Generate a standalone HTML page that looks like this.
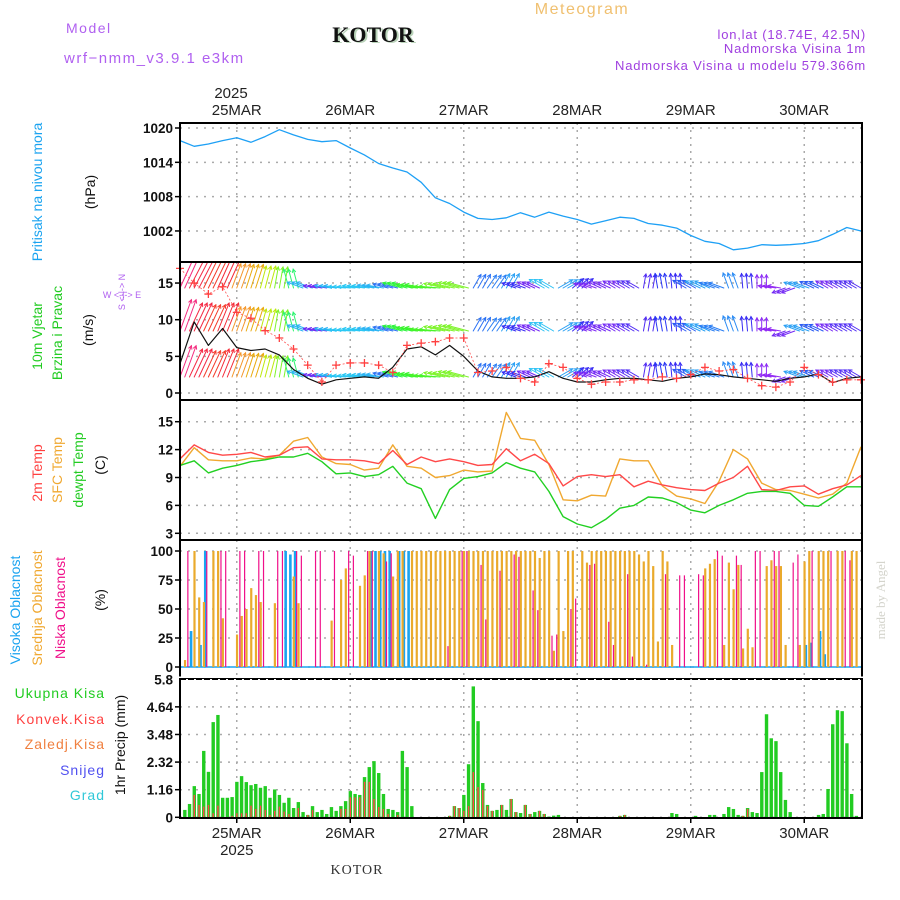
<!DOCTYPE html>
<html><head><meta charset="utf-8"><style>
html,body{margin:0;padding:0;background:#fff;}
#wrap{position:relative;width:900px;height:900px;overflow:hidden;font-family:"Liberation Sans",sans-serif;}
svg{position:absolute;left:0;top:0;}
</style></head><body>
<div id="wrap">
<svg id="chart" width="900" height="900" viewBox="0 0 900 900" xmlns="http://www.w3.org/2000/svg">
<g font-family="Liberation Sans, sans-serif">
<text x="66" y="33" font-size="14" fill="#b060f0" letter-spacing="1.5">Model</text>
<text x="64" y="63" font-size="15" fill="#b060f0" letter-spacing="1.5">wrf−nmm_v3.9.1 e3km</text>
<text x="375" y="43" font-size="22" font-weight="bold" font-family="Liberation Serif, serif" fill="#b9d3b9" text-anchor="middle">KOTOR</text>
<text x="373" y="42" font-size="22" font-weight="bold" font-family="Liberation Serif, serif" fill="#111" text-anchor="middle">KOTOR</text>
<text x="582" y="14" font-size="16" fill="#f0c070" text-anchor="middle" letter-spacing="1.5">Meteogram</text>
<text x="866" y="39" font-size="13" fill="#a040e0" text-anchor="end" letter-spacing="0.8">lon,lat (18.74E, 42.5N)</text>
<text x="866" y="53" font-size="13" fill="#a040e0" text-anchor="end" letter-spacing="0.8">Nadmorska Visina 1m</text>
<text x="866" y="70" font-size="13" fill="#a040e0" text-anchor="end" letter-spacing="0.8">Nadmorska Visina u modelu 579.366m</text>
<text x="231" y="98" font-size="15" fill="#222" text-anchor="middle">2025</text>
<text x="357" y="874" font-size="14" font-family="Liberation Serif, serif" fill="#333" text-anchor="middle" letter-spacing="1">KOTOR</text>
<text transform="translate(885,600) rotate(-90)" font-size="13" font-family="Liberation Serif, serif" fill="#d4d4cc" text-anchor="middle">made by Angel</text>

<text transform="translate(42,192) rotate(-90)" font-size="14" fill="#1aa3f0" text-anchor="middle">Pritisak na nivou mora</text>
<text transform="translate(95,192) rotate(-90)" font-size="14" fill="#111" text-anchor="middle">(hPa)</text>
<text transform="translate(42,336) rotate(-90)" font-size="14" fill="#22cc22" text-anchor="middle">10m Vjetar</text>
<text transform="translate(62,333) rotate(-90)" font-size="14" fill="#22cc22" text-anchor="middle">Brzina i Pravac</text>
<text transform="translate(93,330) rotate(-90)" font-size="14" fill="#111" text-anchor="middle">(m/s)</text>
<text transform="translate(125,292) rotate(-90)" font-size="9" fill="#b060f0" text-anchor="middle">S &lt;-|-&gt; N</text>
<text x="122" y="298" font-size="9" fill="#b060f0" text-anchor="middle">W &lt;-|-&gt; E</text>
<text transform="translate(42,473) rotate(-90)" font-size="14" fill="#ff4040" text-anchor="middle">2m Temp</text>
<text transform="translate(62,470) rotate(-90)" font-size="14" fill="#f0a830" text-anchor="middle">SFC Temp</text>
<text transform="translate(83,470) rotate(-90)" font-size="14" fill="#22cc22" text-anchor="middle">dewpt Temp</text>
<text transform="translate(105,465) rotate(-90)" font-size="14" fill="#111" text-anchor="middle">(C)</text>
<text transform="translate(20,610) rotate(-90)" font-size="14" fill="#1aa3f0" text-anchor="middle">Visoka Oblacnost</text>
<text transform="translate(42,608) rotate(-90)" font-size="14" fill="#f0a830" text-anchor="middle">Srednja Oblacnost</text>
<text transform="translate(65,608) rotate(-90)" font-size="14" fill="#f0108a" text-anchor="middle">Niska Oblacnost</text>
<text transform="translate(105,600) rotate(-90)" font-size="14" fill="#111" text-anchor="middle">(%)</text>
<text x="105" y="698" font-size="14" fill="#22cc22" text-anchor="end" letter-spacing="1">Ukupna  Kisa</text>
<text x="105" y="724" font-size="14" fill="#ff4040" text-anchor="end" letter-spacing="1">Konvek.Kisa</text>
<text x="105" y="749" font-size="14" fill="#f08040" text-anchor="end" letter-spacing="1">Zaledj.Kisa</text>
<text x="105" y="775" font-size="14" fill="#5050f0" text-anchor="end" letter-spacing="1">Snijeg</text>
<text x="105" y="800" font-size="14" fill="#30c8d8" text-anchor="end" letter-spacing="1">Grad</text>
<text transform="translate(125,745) rotate(-90)" font-size="14" fill="#111" text-anchor="middle">1hr Precip (mm)</text>
</g>
<g id="plots"></g>
</svg>
</div>
<script>
// ---- data (3-hourly from 24 Mar 12:00) ----
const dayLabels = ["25MAR","26MAR","27MAR","28MAR","29MAR","30MAR"];
const pressure = [1017.8,1016.8,1017.2,1017.8,1018.3,1017.5,1018.5,1019.7,1018.8,1018.0,1017.6,1017.8,1016.5,1015.3,1013.8,1013.0,1012.3,1010.5,1007.8,1006.8,1005.3,1004.2,1004.0,1004.3,1005.2,1004.4,1005.3,1004.6,1004.0,1003.2,1003.8,1004.4,1004.2,1003.3,1003.0,1002.5,1001.2,1000.2,999.8,998.7,999.0,999.6,999.5,999.6,999.8,1000.3,1001.4,1002.6,1002.0];
const pressureTicks = [1020,1014,1008,1002];
const windSpeed = [4.0,9.7,6.5,8.8,6.2,5.8,6.0,5.2,3.2,2.0,1.2,1.8,2.0,2.2,2.0,3.5,6.0,6.3,5.2,6.5,5.0,3.0,2.2,2.0,2.0,2.2,2.9,2.0,1.5,1.5,1.8,2.0,2.0,1.8,1.6,2.0,2.2,2.6,2.5,2.2,2.0,1.8,1.6,2.0,2.2,2.6,1.4,2.0,2.2];
const windGust = [17,15,13.5,14.5,11.0,10.2,8.5,7.5,6.0,3.8,1.5,3.8,4.1,4.1,3.8,2.8,6.5,6.8,7.0,7.5,7.5,2.8,3.0,3.5,2.0,1.5,4.0,3.5,2.0,1.2,1.5,1.5,1.8,1.8,2.2,2.0,2.5,3.5,3.0,3.2,2.0,1.0,0.8,1.5,3.5,2.5,1.5,1.8,1.8];
const windDir = [70,65,65,68,70,72,75,80,105,160,170,172,175,172,170,165,165,170,175,168,165,60,55,60,160,155,150,30,40,160,155,150,150,80,100,95,150,155,160,110,95,90,170,200,160,155,150,150,150];
const windTicks = [15,10,5,0];
const temp2m = [11.0,12.5,11.7,11.4,11.5,11.7,11.2,11.4,12.2,12.3,11.0,10.9,10.9,10.8,10.5,11.9,10.4,11.2,10.7,11.0,10.7,10.3,10.4,12.1,10.8,11.5,10.5,8.1,9.1,9.3,9.1,9.3,8.0,8.6,8.2,7.9,7.7,7.6,8.4,9.0,10.2,7.7,7.6,8.0,8.1,7.2,7.8,8.2,9.2];
const tempSfc = [10.2,12.2,10.9,10.8,10.8,11.1,11.0,11.4,12.9,13.3,11.2,10.5,10.4,9.8,10.0,12.5,10.2,10.0,9.0,9.2,9.8,9.6,9.7,16.0,13.2,13.0,10.4,6.6,6.5,7.1,7.0,11.0,10.8,10.8,8.1,7.0,6.7,6.2,8.6,12.0,11.0,8.4,7.7,7.6,7.2,6.8,7.2,8.4,12.3];
const tempDew = [10.3,10.8,9.5,10.0,10.3,10.7,10.9,11.2,11.2,11.6,10.7,9.4,9.5,9.1,9.3,10.2,8.4,7.8,4.6,7.7,8.9,9.1,9.5,10.6,10.0,9.6,7.5,4.8,4.0,3.6,4.5,5.7,6.0,6.9,6.8,6.3,5.5,5.2,6.0,6.6,7.3,7.5,7.5,7.3,6.0,5.9,6.9,8.0,8.0];
const tempTicks = [15,12,9,6,3];
// ---- hourly data (24 Mar 12:00 .. 30 Mar 12:00) ----
const cloudHigh = [0,0,31,0,19,100,0,0,0,0,0,0,0,0,0,0,0,0,0,0,0,0,100,97,
100,0,0,0,0,0,0,0,0,0,0,0,0,0,0,0,100,100,100,100,100,0,100,100,
100,0,0,0,0,0,0,0,0,0,0,0,0,0,0,0,0,0,0,0,0,0,0,0,
0,0,0,0,0,0,0,0,0,0,0,0,0,0,0,0,0,0,0,0,0,0,0,0,
0,0,0,0,0,0,0,0,0,0,0,0,0,0,0,0,0,0,0,0,0,0,0,0,
0,0,0,0,0,0,0,0,0,0,0,0,19,21,0,31,11,0,0,0,0,0,0,0,0];
const cloudMid = [0,6,0,100,60,56,0,100,100,42,0,0,28,44,50,68,62,56,0,0,55,0,0,0,
78,55,0,0,0,0,0,0,40,0,75,85,0,0,70,79,100,0,100,98,0,78,100,100,
0,100,100,100,100,100,100,100,100,100,100,100,100,100,100,100,100,100,100,100,100,100,100,100,
100,100,100,100,94,100,100,14,100,31,100,100,0,100,90,100,100,100,100,100,100,100,100,100,
100,97,91,100,87,22,100,91,19,0,0,0,0,0,0,85,89,93,0,19,90,67,88,16,
33,17,0,0,87,92,87,87,19,0,0,19,91,100,0,100,100,100,0,100,100,0,100,100,0];
const cloudLow = [0,0,100,0,0,0,100,0,0,100,100,0,0,100,100,0,0,100,100,0,0,100,100,0,
0,100,96,0,0,100,100,0,0,100,0,0,100,96,0,0,100,100,0,0,91,98,0,0,
0,0,0,0,0,0,0,0,0,18,0,0,100,100,0,0,88,41,0,0,83,0,0,97,
95,0,0,66,49,0,0,27,28,0,0,50,59,0,0,88,89,0,0,39,19,0,0,80,
9,0,0,2,0,0,0,80,0,0,79,79,0,0,80,79,0,0,100,96,0,0,96,88,
0,0,100,100,0,0,100,100,0,0,90,97,0,0,100,0,0,0,100,0,0,100,92,0,0];
const cloudTicks = [100,75,50,25,0];
const precipTotal = [0,0.31,0.56,1.31,0.98,2.79,1.91,4.0,4.3,0.82,0.82,0.85,1.49,1.73,1.48,1.35,1.40,1.24,1.31,0.82,1.17,0.94,0.61,0.82,
0.39,0.64,0.22,0.1,0.47,0.22,0.31,0.14,0.43,0.27,0.47,0.68,1.10,0.98,0.94,1.69,2.11,2.36,1.86,0.98,0.35,0.31,0.22,2.79,
2.11,0.47,0,0,0,0,0,0,0,0.06,0.47,0.39,0.94,2.23,5.5,4.04,1.44,0.52,0.27,0.31,0.52,0.31,0.77,0.22,
0.18,0.52,0.14,0.22,0.27,0.14,0.03,0.07,0.1,0,0,0,0,0,0,0,0,0,0,0,0,0.06,0.1,0,
0,0,0,0,0,0,0,0,0.18,0.14,0,0,0,0.06,0,0,0.1,0.1,0,0.14,0.43,0.35,0.1,0.06,
0.39,0.22,0.18,1.9,4.33,3.32,3.2,1.9,0.73,0.22,0,0,0,0,0,0.1,0.14,1.19,3.91,4.5,4.46,3.11,0.98,0.06,0];
const precipConv = [0,0,0,0.94,0.52,0.45,0.52,0.17,0.49,0,0,0.06,0.17,0.17,0.17,0.49,0.35,0.49,0.31,0.1,0.27,0.45,0.24,0.14,
0,0.39,0,0.1,0.3,0,0,0,0,0,0.35,0.35,0.84,0.84,0.84,1.49,1.49,0.77,0.43,0.35,0.14,0,0.1,0,
0,0,0,0,0,0,0,0,0,0.06,0.47,0.39,0.27,0.47,1.9,1.27,1.15,0.47,0.27,0,0.52,0,0.77,0.22,
0,0.52,0.14,0,0.27,0.14,0,0,0,0,0,0,0,0,0,0,0,0,0,0,0,0.06,0.1,0,
0,0,0,0,0,0,0,0,0,0,0,0,0,0,0,0,0,0,0,0,0,0,0,0.06,
0.35,0,0,0,0,0,0,0,0,0,0,0,0,0,0,0,0,0,0,0,0,0,0,0,0];
const precipTicks = [5.8,4.64,3.48,2.32,1.16,0];

// ---- axes ----
const X0 = 180, X1 = 862, DAYW = 113.5;
const x3 = i => X0 + i * DAYW / 8;
const xh = h => X0 + h * DAYW / 24;
const xDay = d => X0 + DAYW / 2 + d * DAYW;
const yP = p => 128 + (1020 - p) * 5.72;
const yW = v => 393 - v * 7.33;
const yT = t => 421.7 + (15 - t) * 9.3;
const yC = c => 667 - c * 1.16;
const yR = r => 817.3 - r * 23.8;
const panels = [[123,262],[262,400],[400,540],[540,678],[678,818]];

const NS = "http://www.w3.org/2000/svg";
const root = document.getElementById('plots');
function mk(tag, attrs, parent) {
  const el = document.createElementNS(NS, tag);
  for (const k in attrs) el.setAttribute(k, attrs[k]);
  (parent || root).appendChild(el);
  return el;
}

// grids
panels.forEach((p, pi) => {
  dayLabels.forEach((d, di) => {
    const g = mk('line', {x1: xDay(di), x2: xDay(di), y1: p[0], y2: p[1], stroke: '#aaa', 'stroke-width': 1.5, 'stroke-dasharray': '2,5'});
    
    
  });
});
function hGrid(ticks, yf, fmt, dash) {
  ticks.forEach(t => {
    const y = yf(t);
    const g = mk('line', {x1: X0, x2: X1, y1: y, y2: y, stroke: '#aaa', 'stroke-width': 1.5, 'stroke-dasharray': dash || '2,6'});
    
    
    const tk = mk('line', {x1: X0 - 5, x2: X0, y1: y, y2: y, stroke: '#000', 'stroke-width': 1.5});
    
    
    const tx = mk('text', {x: X0 - 7, y: y + 5, 'font-size': 13.5, 'text-anchor': 'end', fill: '#111', 'font-weight': '600', 'font-family': 'Liberation Sans, sans-serif'});
    tx.textContent = fmt(t);
    
    
  });
}
hGrid(pressureTicks, yP, String);
hGrid(windTicks, yW, String);
hGrid(tempTicks, yT, String);
hGrid(cloudTicks, yC, String);
hGrid(precipTicks.slice(1), yR, t => t === 0 ? '0' : t.toFixed(2));
{
  const tx = mk('text', {x: X0 - 7, y: yR(5.8) + 5, 'font-size': 13.5, 'text-anchor': 'end', fill: '#111', 'font-weight': '600', 'font-family': 'Liberation Sans, sans-serif'});
  tx.textContent = precipTicks[0].toFixed(1);
  
  
}

// day labels top & bottom
dayLabels.forEach((d, di) => {
  const t = mk('text', {x: xDay(di), y: 115, 'font-size': 15, 'text-anchor': 'middle', fill: '#222', 'font-family': 'Liberation Sans, sans-serif'});
  t.textContent = d;
  
  
  const b = mk('text', {x: xDay(di), y: 838, 'font-size': 15, 'text-anchor': 'middle', fill: '#222', 'font-family': 'Liberation Sans, sans-serif'});
  b.textContent = d;
  
  
  const tk = mk('line', {x1: xDay(di), x2: xDay(di), y1: 818, y2: 823, stroke: '#000', 'stroke-width': 1.5});
  
  
});
{
  const y = mk('text', {x: xDay(0), y: 855, 'font-size': 15, 'text-anchor': 'middle', fill: '#222', 'font-family': 'Liberation Sans, sans-serif'});
  y.textContent = '2025';
  
  
}

function polyline(vals, xf, yf, color, w, name) {
  const pts = vals.map((v, i) => xf(i).toFixed(1) + ',' + yf(v).toFixed(1)).join(' ');
  const pl = mk('polyline', {points: pts, fill: 'none', stroke: color, 'stroke-width': w, 'stroke-linejoin': 'round'});
  
  
  return pl;
}

// pressure
polyline(pressure, x3, yP, '#1ea0f5', 1.3, 'pressure-line');

// wind arrows
const hueStops = [[0.5,275],[1.5,262],[2.5,225],[3.5,205],[4.5,185],[6,140],[7.5,95],[9,60],[11,32],[13.5,5],[17,-25]];
function gustHue(g) {
  if (g <= hueStops[0][0]) return hueStops[0][1];
  for (let k = 1; k < hueStops.length; k++) {
    if (g <= hueStops[k][0]) {
      const a = hueStops[k-1], b = hueStops[k];
      return a[1] + (b[1] - a[1]) * (g - a[0]) / (b[0] - a[0]);
    }
  }
  return hueStops[hueStops.length-1][1];
}
const rows = [288, 331, 377];
const windG = mk('g', {'stroke-linecap': 'round'});


rows.forEach(ry => {
  windDir.forEach((ang, i) => {
    const g = windGust[i];
    const h = (gustHue(g) + 360) % 360;
    const col = 'hsl(' + h.toFixed(0) + ',90%,' + (h > 40 && h < 90 ? 48 : 56) + '%)';
    const L = 12 + g * 1.25;
    const rad = ang * Math.PI / 180;
    for (let s = -1; s <= 1; s++) {
      if (i === 0 && s < 0) continue;
      if (i === windDir.length - 1 && s > 0) continue;
      const bx = x3(i) + s * DAYW / 24;
      const ex = bx + L * Math.cos(rad), ey = ry - L * Math.sin(rad);
      const cy = Math.max(263, Math.min(399, ey));
      const a = mk('line', {x1: bx, y1: ry, x2: ex, y2: cy, stroke: col, 'stroke-width': 1}, windG);
      
      
      if (ey > 263) {
        const h1 = rad + Math.PI - 0.5, h2 = rad + Math.PI + 0.5;
        const hd = mk('polyline', {points: (ex + 3.5*Math.cos(h1)) + ',' + (ey - 3.5*Math.sin(h1)) + ' ' + ex + ',' + ey + ' ' + (ex + 3.5*Math.cos(h2)) + ',' + (ey - 3.5*Math.sin(h2)), fill: 'none', stroke: col, 'stroke-width': 1}, windG);
        
        
      }
    }
  });
});
// wind speed & gust
polyline(windSpeed, x3, yW, '#111', 1.2, 'wind-speed-line');
polyline(windGust, x3, yW, '#ff5050', 0.8, 'wind-gust-line').setAttribute('stroke-dasharray', '2,2');
windGust.forEach((g, i) => {
  const cx = x3(i), cy = Math.max(264, yW(g));
  const c = mk('path', {d: 'M' + (cx-4) + ',' + cy + 'H' + (cx+4) + 'M' + cx + ',' + (cy-4) + 'V' + (cy+4), stroke: '#ff4040', 'stroke-width': 1.3});
  
  
});

// temperatures
polyline(tempSfc, x3, yT, '#f0a830', 1.4, 'sfc-temp-line');
polyline(temp2m, x3, yT, '#ff4848', 1.4, 'temp-2m-line');
polyline(tempDew, x3, yT, '#22d022', 1.4, 'dewpoint-line');

// clouds
{
  const bl = mk('line', {x1: X0, x2: X1, y1: yC(0), y2: yC(0), stroke: '#1aa3f0', 'stroke-width': 1.5});
  
  
}
cloudHigh.forEach((v, h) => {
  if (v <= 0) return;
  const r = mk('rect', {x: xh(h) + 0.3, y: yC(v), width: 2.6, height: yC(0) - yC(v), fill: '#1aa3f0'});
  
  
});
cloudMid.forEach((v, h) => {
  if (v <= 0) return;
  const r = mk('rect', {x: xh(h) - 0.8, y: yC(v), width: 2.2, height: yC(0) - yC(v), fill: '#eaaa2c'});
  
  
});
cloudLow.forEach((v, h) => {
  if (v <= 0) return;
  const r = mk('rect', {x: xh(h) - 2.2, y: yC(v), width: 1.2, height: yC(0) - yC(v), fill: '#f0108a'});
  
  
});

// precipitation
precipTotal.forEach((v, h) => {
  if (v <= 0) return;
  const r = mk('rect', {x: xh(h) - 1.6, y: yR(v), width: 3.4, height: yR(0) - yR(v), fill: '#22cc22'});
  
  
});
precipConv.forEach((v, h) => {
  if (v <= 0) return;
  const r = mk('rect', {x: xh(h) - 0.6, y: yR(v), width: 1.4, height: yR(0) - yR(v), fill: '#ff4848'});
  
  
});

// panel frames
panels.forEach((p, pi) => {
  const r = mk('rect', {x: X0, y: p[0], width: X1 - X0, height: p[1] - p[0], fill: 'none', stroke: '#000', 'stroke-width': 2});
  
  
});
{
  const d = mk('line', {x1: X0, x2: X1, y1: 679, y2: 679, stroke: '#000', 'stroke-width': 2, 'stroke-dasharray': '6,2'});
  
  
  const w = mk('rect', {x: X0 - 1, y: 676.5, width: X1 - X0 + 2, height: 1.5, fill: '#fff'});
  
  
}
</script>
</body></html>
